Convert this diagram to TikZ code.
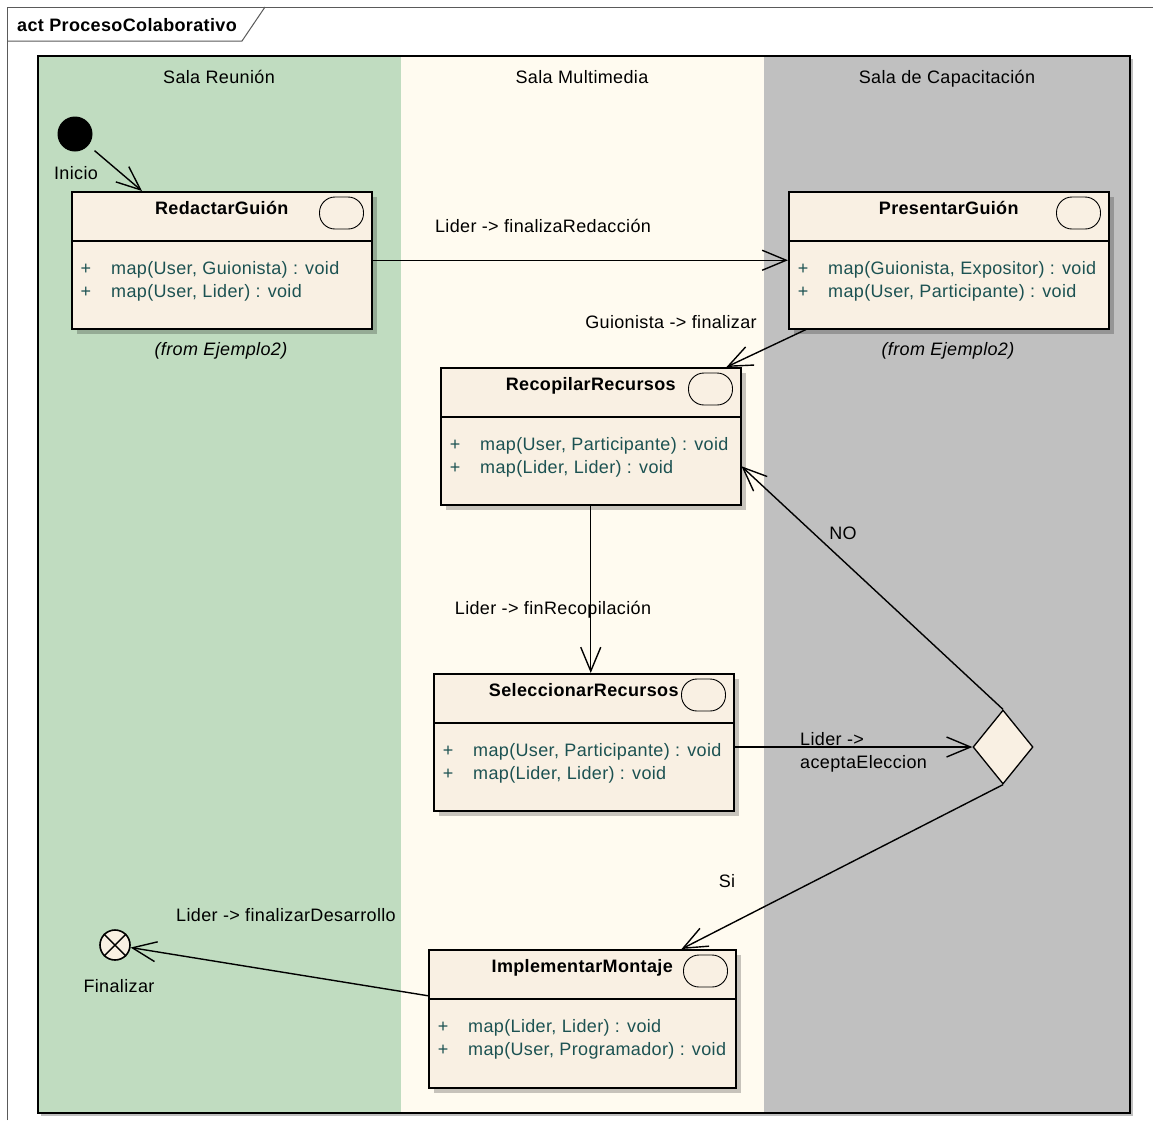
\documentclass[tikz,border=0pt]{standalone}
\usepackage{fontspec}
\setmainfont{Liberation Sans}[LetterSpace=2]
\usetikzlibrary{arrows.meta,calc,shapes.geometric}

\definecolor{lanegreen}{RGB}{192,220,192}
\definecolor{lanecream}{RGB}{255,251,240}
\definecolor{lanegray}{RGB}{192,192,192}
\definecolor{boxfill}{RGB}{249,240,227}
\definecolor{optext}{RGB}{28,82,82}
\definecolor{framecol}{RGB}{90,90,90}

\tikzset{
  txt/.style={font=\fontsize{18}{23}\selectfont, inner sep=0pt, text height=13pt, text depth=0pt},
  boldtxt/.style={txt, font=\fontsize{18}{23}\selectfont\bfseries},
  ittxt/.style={txt, font=\fontsize{18}{23}\selectfont\itshape},
  optxt/.style={txt, text=optext, anchor=west},
  actnode/.style={draw, fill=boxfill, line width=1.5pt, inner sep=0pt},
  iconbox/.style={draw, fill=boxfill, line width=0.9pt, rounded corners=15.5pt,
    minimum width=44pt, minimum height=32pt, inner sep=0pt},
  boxshadow/.style={fill=black, opacity=0.22},
  conn/.style={draw, line width=1.4pt,
    -{Straight Barb[length=24pt,width=20pt,line width=1.4pt]}},
}

% activity box: name, left, top, width, height, title, first and second operation
\newcommand\actbox[8]{%
  \fill[boxshadow] (#2+6,#3+6) rectangle ++(#4,#5);
  \node[actnode, minimum width=#4pt, minimum height=#5pt, anchor=north west] (#1) at (#2,#3) {};
  \draw[line width=1.5pt] ($(#1.north west)+(0,50)$) -- ($(#1.north east)+(0,50)$);
  \node[boldtxt] (#1-title) at ($(#1.north)+(0,17)$) {#6};
  \node[iconbox] (#1-icon) at ($(#1.north east)+(-31,22)$) {};
  \node[txt, text=optext] (#1-p1) at ($(#1.north west)+(15,77)$) {+};
  \node[optxt] (#1-o1) at ($(#1.north west)+(40,77)$) {#7};
  \node[txt, text=optext] (#1-p2) at ($(#1.north west)+(15,100)$) {+};
  \node[optxt] (#1-o2) at ($(#1.north west)+(40,100)$) {#8};
}

\begin{document}
\begin{tikzpicture}[x=1pt,y=-1pt]
\useasboundingbox (0,0) rectangle (1153,1120);
\fill[white] (0,0) rectangle (1153,1120);

% diagram frame and its name tab
\draw[framecol, line width=1pt] (7,1120) -- (7,7) -- (1153,7);
\draw[framecol, line width=1pt] (7,41) -- (242,41) -- (265,7);
\node[boldtxt, anchor=west] (frametitle) at (17,25) {act ProcesoColaborativo};

% swimlanes
\fill[black, opacity=0.25] (41,59) rectangle (1133,1116);
\fill[lanegreen] (38,56) rectangle (401,1113);
\fill[lanecream] (401,56) rectangle (764,1113);
\fill[lanegray] (764,56) rectangle (1130,1113);
\draw[line width=1.5pt] (38,56) rectangle (1130,1113);
\node[txt] (lane1) at (219,77) {Sala Reunión};
\node[txt] (lane2) at (582,77) {Sala Multimedia};
\node[txt] (lane3) at (947,77) {Sala de Capacitación};

% activities
\actbox{red}{71}{191}{300}{137}{RedactarGuión}{map(User, Guionista) : void}{map(User, Lider) : void}
\actbox{pres}{788}{191}{320}{137}{PresentarGuión}{map(Guionista, Expositor) : void}{map(User, Participante) : void}
\actbox{rec}{440}{367}{300}{137}{RecopilarRecursos}{map(User, Participante) : void}{map(Lider, Lider) : void}
\actbox{sel}{433}{673}{300}{137}{SeleccionarRecursos}{map(User, Participante) : void}{map(Lider, Lider) : void}
\actbox{imp}{428}{949}{307}{138}{ImplementarMontaje}{map(Lider, Lider) : void}{map(User, Programador) : void}

\node[ittxt] (redfrom) at (221,349) {(from Ejemplo2)};
\node[ittxt] (presfrom) at (948,349) {(from Ejemplo2)};

% initial, final and decision nodes
\node[circle, fill=black, minimum size=35pt, inner sep=0pt] (ini) at (75,134) {};
\node[txt] (inilbl) at (76,173) {Inicio};
\node[circle, draw, fill=boxfill, line width=1.6pt, minimum size=30pt, inner sep=0pt] (fin) at (115,945) {};
\draw[line width=1.4pt] (fin.north west) -- (fin.south east) (fin.north east) -- (fin.south west);
\node[txt] (finlbl) at (119,986) {Finalizar};
\node[diamond, draw, fill=boxfill, line width=1.3pt, minimum width=60pt, minimum height=74pt, inner sep=0pt] (dec) at (1003,747) {};

% control flows
\draw[conn, shorten <=8pt] (ini) -- ($(red.north west)+(71,0)$);
\draw[conn] (red.east) -- (pres.west);
\node[txt] (l1) at (543,226) {Lider -> finalizaRedacción};
\draw[conn] ($(pres.south west)+(18,0)$) -- ($(rec.north east)+(-15,0)$);
\node[txt] (l2) at (671,322) {Guionista -> finalizar};
\draw[conn] (rec.south) -- (rec.south |- sel.north);
\node[txt] (l3) at (553,608) {Lider -> finRecopilación};
\draw[conn] (dec.west -| sel.east) -- (dec.west);
\node[txt] (l4a) [anchor=west] at (800,739) {Lider ->};
\node[txt] (l4b) [anchor=west] at (800,762) {aceptaEleccion};
\draw[conn] (dec.north) -- ($(rec.east)+(0,30)$);
\node[txt] (l5) at (843,533) {NO};
\draw[conn] (dec.south) -- ($(imp.north east)+(-55,0)$);
\node[txt] (l6) at (727,881) {Si};
\draw[conn] ($(imp.west)+(0,-23)$) -- (fin);
\node[txt] (l7) at (286,915) {Lider -> finalizarDesarrollo};
\end{tikzpicture}
\end{document}
